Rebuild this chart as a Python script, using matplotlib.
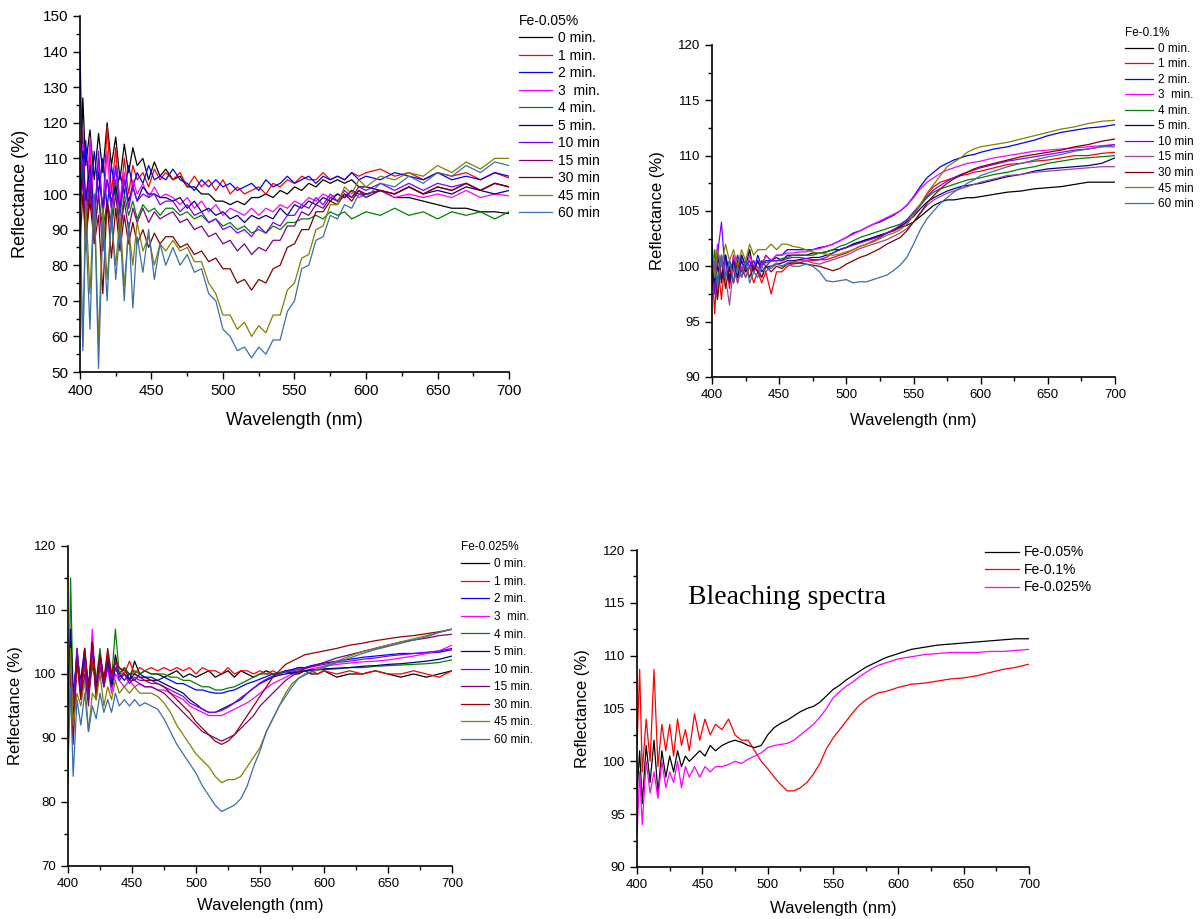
import matplotlib.pyplot as plt
from matplotlib.ticker import MultipleLocator

plt.rcParams['font.family'] = ['Liberation Sans', 'DejaVu Sans']

# wavelength grid (nm) used for every curve
wl = [400, 402, 404, 407, 410, 413, 416, 419, 422, 425,
      428, 431, 434, 437, 440, 444, 448, 452, 456, 460,
      465, 470, 475, 480, 485, 490, 495, 500, 505, 510,
      515, 520, 525, 530, 535, 540, 545, 550, 555, 560,
      565, 570, 575, 580, 585, 590, 595, 600, 610, 620,
      630, 640, 650, 660, 670, 680, 690, 700]

labels_a = ['0 min.', '1 min.', '2 min.', '3  min.', '4 min.', '5 min.',
            '10 min', '15 min', '30 min', '45 min', '60 min']
labels_c = ['0 min.', '1 min.', '2 min.', '3  min.', '4 min.', '5 min.',
            '10 min.', '15 min.', '30 min.', '45 min.', '60 min.']
labels_d = ['Fe-0.05%', 'Fe-0.1%', 'Fe-0.025%']

colors_a = ['#000000', '#ff0000', '#0000ff', '#ff00ff', '#008000', '#000080',
            '#8000ff', '#800080', '#800000', '#808000', '#3a6ea8']
colors_b = ['#000000', '#ff0000', '#0000ff', '#ff00ff', '#008000', '#000080',
            '#8000ff', '#a040a0', '#800000', '#808000', '#3a6ea8']
colors_c = ['#000000', '#ff0000', '#0000ff', '#ff00ff', '#008000', '#000080',
            '#8000ff', '#800080', '#990000', '#808000', '#3a6ea8']
colors_d = ['#000000', '#ff0000', '#ff00ff']

# ---- Fe-0.05% ----
fe005 = [
    [95, 127, 108, 118, 104, 117, 106, 120, 108, 116,
     104, 114, 106, 113, 108, 110, 104, 109, 105, 107,
     104, 105, 102, 102, 100, 100, 98, 98, 97, 98,
     97, 99, 99, 100, 99, 101, 100, 102, 101, 103,
     102, 104, 103, 104, 103, 104, 102, 102, 101, 99,
     99, 98, 97, 96, 96, 95, 95, 94.5],
    [90, 118, 96, 112, 92, 110, 95, 119, 100, 113,
     96, 110, 100, 108, 104, 106, 102, 107, 104, 106,
     104, 106, 102, 105, 102, 104, 101, 104, 100, 102,
     100, 101, 102, 100, 103, 102, 104, 103, 105, 104,
     104, 106, 104, 105, 104, 106, 105, 106, 107, 105,
     106, 104, 106, 105, 106, 104, 106, 104.5],
    [140, 104, 115, 98, 112, 100, 110, 96, 108, 100,
     106, 100, 108, 102, 106, 103, 108, 104, 105, 104,
     107, 104, 103, 101, 104, 102, 104, 102, 103, 101,
     102, 103, 101, 104, 102, 103, 105, 103, 104, 105,
     103, 105, 104, 105, 104, 106, 104, 105, 104, 106,
     105, 104, 106, 104, 105, 104, 106, 105],
    [100, 114, 90, 116, 92, 108, 95, 112, 96, 108,
     98, 106, 96, 104, 100, 103, 99, 102, 99, 100,
     99, 97, 99, 96, 98, 95, 97, 94, 96, 95,
     94, 96, 94, 96, 95, 97, 96, 98, 97, 99,
     98, 100, 99, 100, 99, 101, 99, 100, 101, 99,
     100, 99, 100, 99, 101, 99, 100, 99.5],
    [95, 108, 86, 104, 88, 100, 90, 98, 92, 104,
     90, 100, 94, 98, 93, 97, 95, 96, 94, 96,
     96, 94, 95, 93, 94, 92, 93, 91, 92, 90,
     91, 89, 90, 89, 91, 90, 92, 92, 93, 93,
     94, 93, 95, 94, 95, 93, 94, 95, 94, 96,
     94, 95, 93, 95, 94, 95, 93, 95],
    [92, 112, 98, 108, 94, 106, 96, 104, 98, 102,
     96, 104, 98, 102, 98, 102, 100, 100, 99, 99,
     98, 99, 96, 98, 95, 96, 94, 95, 93, 94,
     92, 94, 93, 94, 93, 96, 94, 97, 96, 98,
     97, 99, 98, 100, 99, 101, 100, 100, 101, 100,
     102, 100, 101, 100, 102, 101, 100, 101],
    [102, 110, 92, 106, 90, 112, 94, 104, 96, 108,
     94, 104, 96, 102, 98, 100, 99, 100, 97, 98,
     98, 95, 97, 94, 95, 92, 93, 90, 91, 89,
     90, 88, 91, 89, 92, 91, 94, 94, 97, 96,
     99, 97, 100, 98, 101, 99, 102, 101, 103, 101,
     103, 101, 103, 102, 103, 101, 103, 102],
    [96, 104, 84, 102, 88, 100, 84, 98, 90, 100,
     88, 98, 90, 96, 92, 96, 92, 95, 93, 94,
     95, 92, 93, 90, 91, 88, 89, 86, 87, 84,
     86, 83, 85, 84, 87, 87, 91, 91, 95, 94,
     97, 96, 99, 98, 100, 99, 101, 100, 101, 100,
     102, 100, 102, 101, 103, 101, 103, 102],
    [85, 100, 88, 98, 86, 94, 72, 98, 82, 96,
     84, 94, 86, 92, 86, 90, 85, 89, 86, 88,
     88, 85, 86, 83, 84, 81, 82, 79, 79, 75,
     76, 73, 76, 75, 79, 80, 85, 86, 90, 90,
     95, 95, 98, 97, 100, 98, 101, 99, 101, 100,
     102, 100, 102, 101, 103, 101, 103, 102],
    [88, 57, 98, 72, 100, 58, 96, 76, 92, 80,
     94, 74, 90, 80, 92, 84, 88, 80, 86, 84,
     87, 84, 85, 81, 81, 75, 72, 66, 66, 62,
     64, 60, 63, 61, 66, 66, 73, 75, 82, 83,
     90, 91, 97, 97, 102, 100, 104, 102, 105, 104,
     106, 105, 108, 106, 109, 107, 110, 110],
    [100, 56, 92, 62, 100, 51, 92, 70, 96, 76,
     90, 70, 92, 68, 88, 78, 90, 76, 86, 80,
     85, 80, 83, 78, 79, 72, 70, 62, 60, 56,
     57, 54, 57, 55, 59, 59, 67, 70, 79, 80,
     87, 88, 94, 93, 97, 96, 100, 99, 103, 102,
     105, 103, 106, 105, 108, 106, 109, 108],
]

# ---- Fe-0.1% ----
fe01 = [
    [100.5, 99, 101.5, 98.5, 101, 99, 100.5, 99.5, 101, 100,
     101.5, 99.5, 100.5, 100, 101, 100.5, 100.8, 100.5, 101, 101,
     101, 101, 101.2, 101.2, 101.3, 101.5, 101.5, 101.7, 102, 102.2,
     102.4, 102.6, 102.8, 103, 103.2, 103.5, 103.7, 104, 104.5, 105,
     105.5, 105.8, 106, 106, 106.1, 106.2, 106.2, 106.3, 106.5, 106.7,
     106.8, 107, 107.1, 107.2, 107.4, 107.6, 107.6, 107.6],
    [100, 95.7, 100.5, 97, 101, 98, 101, 98.5, 100, 99,
     100, 98.5, 99.5, 98.5, 99.5, 97.5, 99.5, 99.5, 100, 100.2,
     100.3, 100.5, 100.5, 100.6, 100.6, 100.8, 101, 101.2, 101.5, 101.8,
     102, 102.3, 102.6, 103, 103.2, 103.5, 104, 104.6, 105.5, 106.5,
     107.2, 107.6, 107.8, 108, 108.2, 108.3, 108.5, 108.6, 108.9, 109.2,
     109.3, 109.5, 109.6, 109.8, 110, 110, 110.2, 110.3],
    [101.5, 98, 101.5, 99, 101, 99.5, 100.5, 99, 101, 100,
     100.5, 99.5, 101, 100, 100.5, 100.5, 101, 101, 101.5, 101.5,
     101.5, 101.5, 101.5, 101.7, 101.8, 102, 102.3, 102.6, 103, 103.2,
     103.5, 103.8, 104, 104.3, 104.6, 105, 105.5, 106.3, 107.2, 108,
     108.5, 109, 109.3, 109.6, 109.8, 110, 110.1, 110.3, 110.6, 110.8,
     111.1, 111.4, 111.8, 112.1, 112.3, 112.5, 112.6, 112.8],
    [100, 97.5, 102, 99, 100.5, 98.5, 101, 99.5, 100.5, 99.5,
     101, 100, 100.5, 100, 101, 100.5, 101, 101, 101.2, 101.2,
     101.3, 101.3, 101.5, 101.6, 101.8, 102, 102.3, 102.6, 102.9, 103.2,
     103.5, 103.8, 104.1, 104.4, 104.7, 105, 105.5, 106.2, 107, 107.6,
     108, 108.4, 108.7, 108.9, 109.1, 109.3, 109.4, 109.5, 109.8, 110,
     110.2, 110.4, 110.5, 110.6, 110.7, 110.8, 110.9, 111],
    [99, 101.5, 98.5, 101, 99, 100.5, 99.5, 101, 99.5, 100.5,
     100, 100.5, 99.5, 100.5, 100.3, 100.5, 100.5, 100.7, 100.8, 101,
     101, 101, 101, 101.2, 101.3, 101.5, 101.8, 102, 102.3, 102.6,
     102.8, 103, 103.2, 103.4, 103.6, 103.8, 104.2, 104.8, 105.5, 106.2,
     106.7, 107, 107.2, 107.4, 107.6, 107.8, 107.9, 108, 108.3, 108.5,
     108.8, 109, 109.3, 109.5, 109.7, 109.8, 109.9, 110],
    [100.5, 98.5, 100, 99, 101, 98.5, 100.5, 99, 100.5, 99.5,
     100, 99.5, 100.5, 99.5, 100, 100, 100.2, 100.3, 100.5, 100.5,
     100.6, 100.7, 100.8, 100.8, 101, 101.2, 101.5, 101.7, 102, 102.2,
     102.4, 102.6, 102.8, 103, 103.3, 103.6, 104, 104.5, 105.2, 105.8,
     106.2, 106.5, 106.8, 107, 107.2, 107.3, 107.4, 107.5, 107.8, 108.1,
     108.3, 108.6, 108.8, 108.9, 109, 109.1, 109.3, 109.8],
    [100.5, 97.5, 101, 104, 99, 100.5, 98.5, 101, 99.5, 100.5,
     100, 100.5, 99.5, 100.5, 100, 100.5, 100.5, 100.5, 100.7, 100.8,
     100.8, 100.7, 100.6, 100.6, 100.8, 101.2, 101.5, 101.7, 101.9, 102.1,
     102.3, 102.5, 102.7, 103, 103.3, 103.7, 104.2, 104.9, 105.6, 106.3,
     106.9, 107.3, 107.7, 108, 108.3, 108.5, 108.7, 108.9, 109.2, 109.5,
     109.7, 109.9, 110.1, 110.3, 110.5, 110.6, 110.8, 111],
    [99.5, 100.5, 97, 100.5, 99, 96.5, 100, 98.5, 100, 99,
     100, 99.5, 100, 99, 100, 99.8, 100.2, 100, 100.3, 100.4,
     100.5, 100.5, 100.3, 100.2, 100.4, 100.6, 100.8, 101, 101.3, 101.6,
     101.8, 102, 102.2, 102.4, 102.7, 103, 103.4, 104, 104.8, 105.5,
     106, 106.3, 106.6, 106.8, 107, 107.2, 107.4, 107.6, 107.9, 108.2,
     108.3, 108.5, 108.6, 108.7, 108.8, 108.9, 109, 109],
    [98, 100, 97, 101, 98, 100, 98.5, 100.5, 99, 100,
     99, 100, 99.5, 99, 100, 99.5, 100, 99.8, 100.2, 100.3,
     100.3, 100.2, 100.1, 100, 99.8, 99.6, 99.8, 100.2, 100.5, 100.8,
     101, 101.3, 101.6, 102, 102.3, 102.6, 103.2, 104, 104.8, 105.7,
     106.4, 107, 107.5, 107.9, 108.2, 108.5, 108.8, 109, 109.3, 109.6,
     109.9, 110.1, 110.3, 110.5, 110.8, 111, 111.3, 111.5],
    [102, 99, 101.5, 100, 102, 100.5, 101.5, 100, 101.5, 100.5,
     102, 101, 101.5, 101.5, 101.5, 102, 101.5, 102, 102, 101.8,
     101.7, 101.5, 101.3, 101.2, 101.1, 101, 101.1, 101.3, 101.5, 101.8,
     102, 102.2, 102.5, 102.8, 103, 103.3, 103.8, 104.6, 105.6, 106.6,
     107.4, 108.2, 109, 109.4, 109.8, 110.3, 110.6, 110.8, 111, 111.2,
     111.5, 111.8, 112.1, 112.4, 112.6, 112.9, 113.1, 113.2],
    [99, 100.5, 98, 101, 99, 100.5, 98.5, 100, 99, 100.5,
     98.5, 99.5, 99, 100, 99.5, 100, 100.3, 100, 100.2, 100,
     100, 100.2, 100, 99.5, 98.7, 98.6, 98.7, 98.8, 98.5, 98.6,
     98.6, 98.8, 99, 99.2, 99.6, 100.1, 100.8, 102, 103.3, 104.3,
     105, 105.7, 106.2, 106.7, 107.1, 107.5, 107.8, 108.2, 108.6, 109,
     109.3, 109.6, 109.9, 110.1, 110.4, 110.6, 110.8, 110.8],
]

# ---- Fe-0.025% ----
fe0025 = [
    [96, 103, 93, 104, 97, 102, 98, 104, 96, 103,
     99, 102, 98, 103, 100, 101, 99, 102, 100, 100.5,
     100, 100, 99.5, 100, 100.5, 99.5, 100, 99.5, 100, 100.5,
     99.5, 100, 100.5, 99.5, 100.5, 100, 99.5, 100, 100.5, 100,
     100, 100.5, 100, 100, 100.5, 100, 100, 100.5, 99.5, 100,
     100, 100.5, 100, 99.5, 100, 99.5, 100, 100.5],
    [98, 102, 95, 103, 98, 101, 96, 102, 98, 103,
     99, 103, 100, 102, 101, 100, 102, 100, 101, 100.5,
     101, 100.5, 101, 100.5, 101, 100.5, 101, 100, 101, 100.5,
     100.5, 100, 101, 100, 100.5, 100.5, 100, 100.5, 100, 100.5,
     100, 100.5, 100.5, 101, 100.5, 100.5, 100, 100.5, 100, 100.5,
     100, 100.5, 100, 100, 100.5, 100, 99.5, 100.5],
    [99, 104, 96, 102, 97, 103, 98, 104, 97, 101,
     99, 102, 98, 101, 100, 99, 100, 99, 100, 99.5,
     99.5, 99, 99.5, 99, 98.5, 98.5, 98, 97.5, 97.5, 97.2,
     97, 97, 97.3, 97.5, 98, 98.5, 98.8, 99.2, 99.6, 100,
     100.2, 100.5, 100.7, 101, 101, 101.3, 101.5, 101.7, 102, 102.3,
     102.6, 102.8, 103, 103.2, 103.2, 103.3, 103.4, 103.8],
    [97, 103, 95, 101, 99, 104, 97, 107, 96, 102,
     98, 101, 97, 100, 99, 98, 99, 98, 98.5, 98,
     98, 97.5, 97.5, 97, 96.5, 96, 95, 94.5, 94, 93.5,
     93.5, 93.5, 94, 94.5, 95, 95.5, 96.2, 97, 97.8, 98.5,
     99, 99.5, 100, 100.3, 100.5, 100.8, 101, 101.2, 101.5, 101.7,
     101.9, 102, 102.2, 102.5, 102.8, 103.2, 103.6, 104.5],
    [83, 115, 96, 103, 98, 102, 97, 101, 99, 104,
     98, 102, 99, 107, 100, 101, 100, 100.5, 100, 100.5,
     100, 100, 100, 99.5, 99.5, 99, 99, 98.5, 98, 98,
     97.5, 97.5, 97.8, 98, 98.5, 99, 99.5, 100, 100, 100,
     100.2, 100.3, 100.3, 100.5, 100.5, 100.6, 100.6, 100.7, 100.8, 101,
     101, 101.2, 101.3, 101.4, 101.5, 101.6, 101.8, 102.2],
    [94, 107, 97, 102, 99, 104, 97, 105, 98, 103,
     99, 102, 98, 101, 99.5, 100, 99, 100, 99.5, 99.5,
     99, 99, 98.5, 98, 97.5, 97, 96, 95.3, 94.5, 94,
     94, 94.5, 95, 95.5, 96, 97, 97.8, 98.5, 99, 99.5,
     99.8, 100, 100.2, 100.3, 100.5, 100.6, 100.7, 100.8, 100.9, 101,
     101.2, 101.3, 101.5, 101.6, 101.8, 102, 102.3, 102.8],
    [97, 101, 95, 104, 98, 102, 96, 104, 99, 101,
     98, 101, 99, 102, 99, 100, 98.5, 99.5, 99, 99,
     98.5, 98.5, 98, 97.5, 97, 96.5, 95.5, 95, 94.5, 94,
     94, 94.3, 94.8, 95.5, 96.3, 97, 97.8, 98.6, 99.2, 99.7,
     100, 100.3, 100.5, 100.7, 100.9, 101.1, 101.3, 101.5, 101.8, 102,
     102.3, 102.5, 102.8, 103, 103.2, 103.4, 103.6, 104],
    [95, 101, 89, 103, 96, 100, 95, 105, 97, 103,
     98, 103, 99, 101, 100, 100, 99, 99, 98.5, 98,
     98, 97.5, 97, 96, 95, 94, 93, 92, 91, 90.5,
     90, 89.5, 90, 90.5, 91.5, 92.5, 93.5, 95, 96, 97,
     98, 99, 99.7, 100.3, 100.8, 101.2, 101.5, 101.8, 102.5, 103,
     103.5, 104, 104.5, 105, 105.3, 105.6, 106, 106.2],
    [93, 100, 90, 102, 96, 104, 98, 105, 97, 103,
     99, 104, 100, 102, 101, 100.5, 100, 100, 99.5, 99,
     99, 98.5, 98, 97, 96, 95, 94, 92.5, 91.5, 90.5,
     89.5, 89, 89.5, 90.5, 92, 93.5, 95, 96.5, 98, 99.5,
     100.5, 101.5, 102, 102.5, 103, 103.2, 103.4, 103.6, 104, 104.5,
     104.8, 105.2, 105.5, 105.8, 106, 106.3, 106.6, 107],
    [90, 104, 92, 97, 95, 99, 91, 97, 96, 100,
     95, 98, 96, 99, 97, 98, 97, 98, 97, 97,
     97, 96.5, 95.5, 94, 92, 90.5, 89, 87.5, 86.5, 85.5,
     84, 83, 83.5, 83.5, 84, 85.5, 87, 88.5, 91, 93,
     95, 97, 98.5, 99.3, 99.8, 100.3, 100.8, 101.2, 102, 102.8,
     103.5, 104, 104.5, 105, 105.5, 106, 106.5, 107],
    [86, 98, 84, 96, 92, 97, 91, 95, 93, 97,
     94, 96, 94, 97, 95, 96, 95, 96, 95, 95.5,
     95, 94.5, 93, 91, 89, 87.5, 86, 84.5, 82.5, 81,
     79.5, 78.5, 79, 79.5, 80.5, 82.5, 85.5, 88, 91, 93,
     95, 96.5, 98, 99.3, 100, 100.3, 100.6, 101, 101.8, 102.5,
     103.2, 103.8, 104.3, 104.8, 105.3, 105.8, 106.5, 107],
]

# ---- bleaching spectra ----
bleach = [
    [97, 101, 96, 101.5, 98, 102, 97, 101, 98.5, 100.5,
     99, 101, 99.5, 100.5, 100, 100.5, 101, 100.5, 101.5, 101,
     101.5, 101.8, 102, 101.8, 101.5, 101.3, 101.5, 102.5, 103.2, 103.6,
     103.9, 104.3, 104.7, 105, 105.2, 105.6, 106.2, 106.8, 107.2, 107.7,
     108.1, 108.5, 108.9, 109.2, 109.5, 109.8, 110, 110.2, 110.6, 110.8,
     111, 111.1, 111.2, 111.3, 111.4, 111.5, 111.6, 111.6],
    [101.5, 108.7, 99, 104, 100, 108.7, 99.5, 103.5, 101, 103.5,
     100.5, 104, 101.5, 103, 101, 104.5, 102, 104, 102.5, 103.5,
     103, 104, 102.5, 102, 102, 101, 100, 99.3, 98.5, 97.8,
     97.2, 97.2, 97.5, 98, 98.8, 99.8, 101.2, 102.2, 103, 103.8,
     104.6, 105.3, 105.8, 106.2, 106.5, 106.6, 106.8, 107, 107.3, 107.4,
     107.6, 107.8, 107.9, 108.1, 108.4, 108.7, 108.9, 109.2],
    [93, 99, 94, 100, 97, 99, 96.5, 100, 97.5, 99,
     98, 100, 97.5, 99.5, 98.5, 99.5, 98.5, 99.5, 99, 99.5,
     99.5, 99.7, 100, 99.8, 100.2, 100.5, 100.8, 101.3, 101.5, 101.6,
     101.7, 102, 102.5, 103, 103.5, 104.2, 105, 106, 106.6, 107.1,
     107.5, 108, 108.4, 108.8, 109.1, 109.3, 109.5, 109.7, 109.9, 110.1,
     110.2, 110.3, 110.3, 110.3, 110.4, 110.4, 110.5, 110.6],
]


def draw_panel(rect, series, labels, colors, ylo, yhi, ystep, tick_fs, label_fs,
               xpad, ypad, leg_title, leg_xy, leg_fs, leg_spacing):
    ax = fig.add_axes(rect)
    for vals, lab, col in zip(series, labels, colors):
        ax.plot(wl, vals, color=col, lw=0.9, label=lab)
    ax.set_xlim(400, 700)
    ax.set_ylim(ylo, yhi)
    ax.xaxis.set_major_locator(MultipleLocator(50))
    ax.xaxis.set_minor_locator(MultipleLocator(25))
    ax.yaxis.set_major_locator(MultipleLocator(ystep))
    ax.yaxis.set_minor_locator(MultipleLocator(ystep / 2))
    ax.spines['top'].set_visible(False)
    ax.spines['right'].set_visible(False)
    ax.spines['left'].set_linewidth(1.2)
    ax.spines['bottom'].set_linewidth(1.2)
    ax.tick_params(which='major', direction='out', length=5, width=1, labelsize=tick_fs)
    ax.tick_params(which='minor', direction='out', length=3, width=1)
    ax.set_xlabel('Wavelength (nm)', fontsize=label_fs, labelpad=xpad)
    ax.set_ylabel('Reflectance (%)', fontsize=label_fs, labelpad=ypad)
    ax.legend(title=leg_title, loc='upper left', bbox_to_anchor=leg_xy,
              bbox_transform=fig.transFigure, frameon=False, fontsize=leg_fs,
              title_fontsize=leg_fs, alignment='left', borderpad=0,
              borderaxespad=0, handlelength=2.4, handletextpad=0.4,
              labelspacing=leg_spacing)
    return ax


fig = plt.figure(figsize=(12.04, 9.19), dpi=100)

draw_panel([0.0664, 0.5952, 0.3564, 0.3874], fe005, labels_a, colors_a,
           50, 150, 10, 11, 13, 10, 10, 'Fe-0.05%', (0.431, 0.985), 10, 0.25)
draw_panel([0.5914, 0.5898, 0.3347, 0.3613], fe01, labels_a, colors_b,
           90, 120, 5, 9.5, 12, 9, 9, 'Fe-0.1%', (0.934, 0.9705), 8.5, 0.3)
draw_panel([0.0565, 0.0577, 0.3189, 0.3482], fe0025, labels_c, colors_c,
           70, 120, 10, 9.5, 12, 6, 8, 'Fe-0.025%', (0.383, 0.4115), 8.5, 0.47)
ax4 = draw_panel([0.5291, 0.0566, 0.3256, 0.3449], bleach, labels_d, colors_d,
                 90, 120, 5, 9.5, 12, 7, 9, None, (0.8185, 0.4065), 10, 0.25)
ax4.text(0.13, 0.85, 'Bleaching spectra', transform=ax4.transAxes,
         fontsize=20, family=['Liberation Serif', 'DejaVu Serif'], va='center')

fig.savefig('out.png', dpi=100)
